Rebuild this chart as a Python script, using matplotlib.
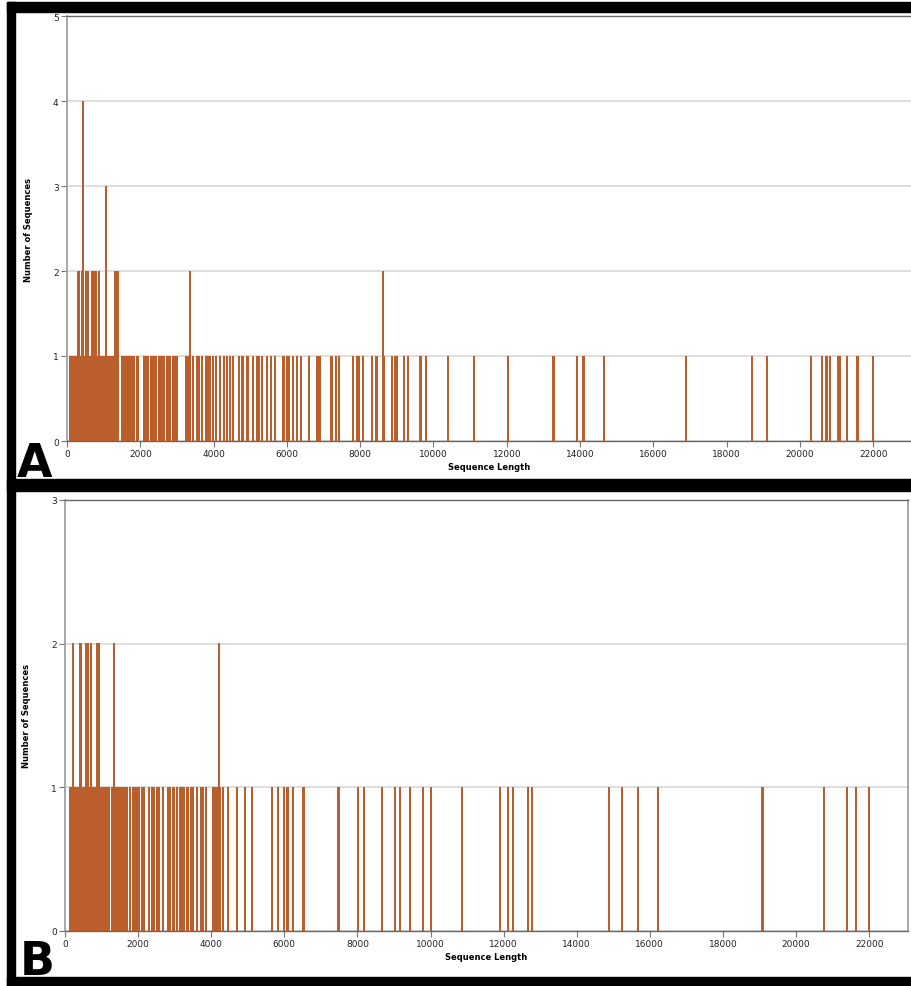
import matplotlib
matplotlib.use('Agg')
from matplotlib import pyplot as plt
from matplotlib.patches import Rectangle

# panel A: sequence lengths by count
a_len1 = [82, 128, 155, 220, 245, 270, 295, 320, 345, 370, 395, 420, 445, 470, 495,
          520, 545, 570, 595, 620, 645, 670, 695, 720, 745, 770, 795, 820, 845, 870,
          895, 920, 945, 970, 995, 1020, 1045, 1070, 1095, 1120, 1145, 1170, 1195,
          1220, 1245, 1270, 1295, 1320, 1345, 1370, 1395,
          1492, 1555, 1610, 1673, 1719, 1774, 1837, 1901, 1937, 2101, 2156, 2219,
          2283, 2338, 2374, 2428, 2501, 2574, 2610, 2647, 2720, 2765, 2810, 2883,
          2938, 2992, 3247, 3283, 3320, 3429, 3538, 3611, 3674, 3793, 3847, 3902,
          3993, 4066, 4175, 4284, 4357, 4448, 4539, 4702, 4766, 4811, 4902, 4948,
          5084, 5175, 5248, 5321, 5448, 5557, 5675,
          5885, 5921, 5994, 6066, 6175, 6266, 6284, 6375, 6393, 6612, 6830, 6866,
          6903, 7194, 7231, 7340, 7413, 7431, 7795, 7904, 7940, 7977, 8068, 8313,
          8431, 8468, 8650, 8859, 8950, 8977, 9013, 9195, 9313, 9632, 9659, 9795,
          10387, 11105, 12033, 13269, 13288, 13907, 14088, 14106,
          14652, 16881, 18700, 19100, 20309, 20591, 20710, 20728, 20819, 21046,
          21073, 21091, 21273, 21291, 21546, 21574, 21591, 21984]
a_len2 = [300, 330, 400, 420, 530, 560, 690, 715, 740, 770, 800, 882, 1320, 1345,
          1390, 3365, 8613]
a_len3 = [1064]
a_len4 = [437]

# panel B
b_len1 = [137, 183, 250, 275, 300, 325, 350, 375, 400, 425, 450, 475, 500, 525, 550,
          575, 600, 625, 650, 675, 700, 725, 770, 795, 820, 845, 870, 895, 940, 965,
          990, 1040, 1095, 1120, 1145, 1170, 1200, 1280, 1305, 1330, 1355, 1380,
          1405, 1430, 1455, 1485,
          1523, 1578, 1642, 1705, 1778, 1851, 1906, 1979, 2034, 2097, 2161, 2307,
          2371, 2435, 2508, 2581, 2672, 2827, 2873, 2946, 2982, 3055, 3146, 3192,
          3256, 3329, 3375, 3438, 3511, 3603, 3712, 3785, 3858, 4058, 4104, 4150,
          4195, 4241, 4332, 4451, 4697, 4925, 5107, 5125, 5654, 5837,
          5992, 6065, 6110, 6229, 6247, 6503, 6539, 7478, 7505, 8026, 8190, 8683,
          9020, 9038, 9166, 9439, 9787, 9805, 10014, 10870, 11902, 12112, 12130,
          12249, 12660, 12786,
          14893, 15230, 15686, 16215, 19061, 19088, 20775, 21386, 21632, 21650,
          21988, 22006]
b_len2 = [228, 410, 429, 575, 593, 638, 703, 867, 885, 939, 1349, 4222]

xticks = list(range(0, 22001, 2000))
barcol = '#BA5E2C'
W, H = 912, 987

fig = plt.figure(figsize=(W / 100, H / 100), dpi=100)

def panel(rect, xmax, ymax, groups):
	ax = fig.add_axes(rect)
	for lens, h in groups:
		bars = ax.bar(lens, [h] * len(lens), width=27, color=barcol, linewidth=0,
		              antialiased=False, zorder=3)
		for b in bars:
			b.set_snap(False)
	ax.set_xlim(0, xmax)
	ax.set_ylim(0, ymax)
	ax.set_yticks(range(0, ymax + 1))
	ax.set_xticks(xticks)
	ax.yaxis.grid(True, color='#dcdcdc', linewidth=1.3, zorder=0)
	ax.set_axisbelow(True)
	for s in ['left', 'right']:
		ax.spines[s].set_color('#999999')
		ax.spines[s].set_linewidth(1.2)
	for s in ['top', 'bottom']:
		ax.spines[s].set_color('#666666')
		ax.spines[s].set_linewidth(1.0)
	ax.tick_params(direction='out', length=4, width=0.8, color='#777777',
	               labelsize=6.5, labelcolor='#222222', pad=2)
	ax.set_xlabel('Sequence Length', fontsize=6, fontweight='bold', labelpad=3)
	ax.set_ylabel('Number of Sequences', fontsize=6, fontweight='bold', labelpad=14)
	return ax

# panel A (right edge runs off the picture)
axA = panel([67 / W, (H - 442) / H, (W - 67) / W, 425 / H], 23056, 5,
            [(a_len1, 1), (a_len2, 2), (a_len3, 3), (a_len4, 4)])
axA.spines['right'].set_visible(False)

axB = panel([65 / W, (H - 932) / H, (908 - 65) / W, 431 / H], 23064, 3,
            [(b_len1, 1), (b_len2, 2)])

# black frames
def band(x0, y0, x1, y1):
	fig.patches.append(Rectangle((x0 / W, 1 - y1 / H), (x1 - x0) / W, (y1 - y0) / H,
	                             transform=fig.transFigure, color='black', zorder=10))

band(7, 3, W, 13)
band(7, 3, 15, H)
band(7, 480, W, 492)
band(7, 978, W, H)

fig.text(17 / W, 1 - 477 / H, 'A', fontsize=33, fontweight='bold', ha='left', va='baseline')
fig.text(20 / W, 1 - 975 / H, 'B', fontsize=33, fontweight='bold', ha='left', va='baseline')

fig.savefig('out.png', dpi=100)
